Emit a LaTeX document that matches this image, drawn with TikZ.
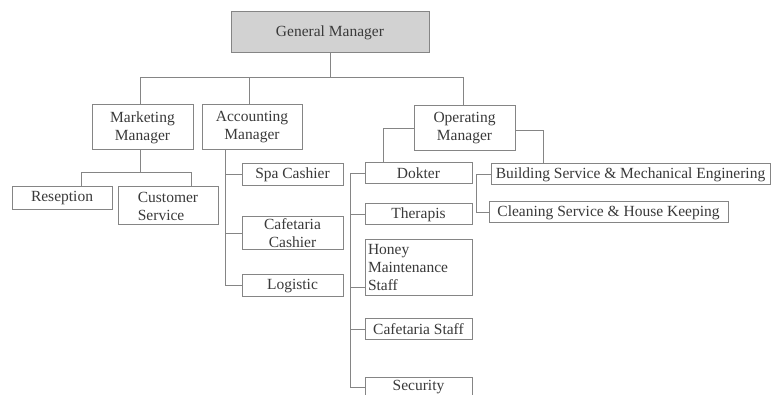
\documentclass[tikz,border=0pt]{standalone}
\usepackage{fontspec}
\setmainfont{Liberation Serif}
\definecolor{ln}{HTML}{858585}
\definecolor{tx}{HTML}{3A3A3A}
\definecolor{gmfill}{HTML}{D2D2D2}
\tikzset{
  box/.style={draw=ln, line width=1pt, inner sep=0pt, text=tx, align=center,
    font=\fontsize{15.5}{18}\selectfont},
  conn/.style={draw=ln, line width=1pt}
}
\begin{document}
\begin{tikzpicture}[x=1pt,y=-1pt]
\useasboundingbox[fill=white] (0,0) rectangle (774,395);
\clip (0,0) rectangle (774,395);
% nodes
\node[box, fill=gmfill, minimum width=198pt, minimum height=41pt] (GM) at (330,32.5) {General Manager};
\node[box, minimum width=101pt, minimum height=45pt] (MM) at (142.5,127.5) {Marketing\\Manager};
\node[box, minimum width=100pt, minimum height=45pt] (AM) at (252,127.5) {Accounting\\Manager};
\node[box, minimum width=101pt, minimum height=45pt] (OM) at (464.5,128) {Operating\\Manager};
\node[box, minimum width=100pt, minimum height=23pt] (Res) at (62,198.5) {Reseption};
\node[box, minimum width=100pt, minimum height=38pt, align=left] (CS) at (168,206) {Customer\\Service};
\node[box, minimum width=101pt, minimum height=22pt] (Spa) at (292.5,175) {Spa Cashier};
\node[box, minimum width=101pt, minimum height=33pt] (CafC) at (292.5,233.5) {Cafetaria\\Cashier};
\node[box, minimum width=101pt, minimum height=22pt] (Log) at (292.5,286) {Logistic};
\node[box, minimum width=107pt, minimum height=21pt] (Dok) at (418.5,173.5) {Dokter};
\node[box, minimum width=107pt, minimum height=21pt] (Ther) at (418.5,214.5) {Therapis};
\node[box, minimum width=107pt, minimum height=56pt, align=left, text width=101pt] (Honey) at (418.5,268) {Honey\\Maintenance\\Staff};
\node[box, minimum width=107pt, minimum height=21pt] (CafS) at (418.5,329.5) {Cafetaria Staff};
\node[box, minimum width=107pt, minimum height=21pt] (Sec) at (418.5,387.5) {Security};
\node[box, minimum width=279pt, minimum height=21pt] (Bld) at (630.5,174.5) {Building Service \& Mechanical Enginering};
\node[box, minimum width=239pt, minimum height=21pt] (Cln) at (608.5,212.5) {Cleaning Service \& House Keeping};
% coordinates
\coordinate (bus) at (0,78);
\coordinate (mbus) at (0,173);
\coordinate (acc) at ([xshift=-27pt]AM.south);
\coordinate (dk) at ([xshift=-14pt]Dok.west);
\coordinate (bk) at ([xshift=-14pt]Bld.west);
% top level
\draw[conn] (GM.south) -- (GM.south |- bus);
\draw[conn] ([xshift=-2pt]MM.north) |- ([xshift=-1.5pt]OM.north |- bus) -- ([xshift=-1.5pt]OM.north);
\draw[conn] ([xshift=-3pt]AM.north) -- ([xshift=-3pt]AM.north |- bus);
% marketing
\draw[conn] ([xshift=-2pt]MM.south) -- ([xshift=-2pt]MM.south |- mbus);
\draw[conn] ([xshift=19pt]Res.north) |- ([xshift=23pt]CS.north |- mbus) -- ([xshift=23pt]CS.north);
% accounting
\draw[conn] (acc) |- (Log.west);
\draw[conn] (Spa.west) -- (Spa.west -| acc);
\draw[conn] (CafC.west) -- (CafC.west -| acc);
% operating
\draw[conn] ([yshift=-1pt]OM.west) -| ([xshift=-35.5pt]Dok.north);
\draw[conn] ([yshift=-3pt]OM.east) -| ([xshift=-87.5pt]Bld.north);
\draw[conn] (Dok.west) -- (dk) |- (Sec.west);
\draw[conn] (Ther.west) -- (Ther.west -| dk);
\draw[conn] ([yshift=-20pt]Honey.west) -- ([yshift=-20pt]Honey.west -| dk);
\draw[conn] (CafS.west) -- (CafS.west -| dk);
\draw[conn] (Bld.west) -- (bk) |- (Cln.west);
\end{tikzpicture}
\end{document}
